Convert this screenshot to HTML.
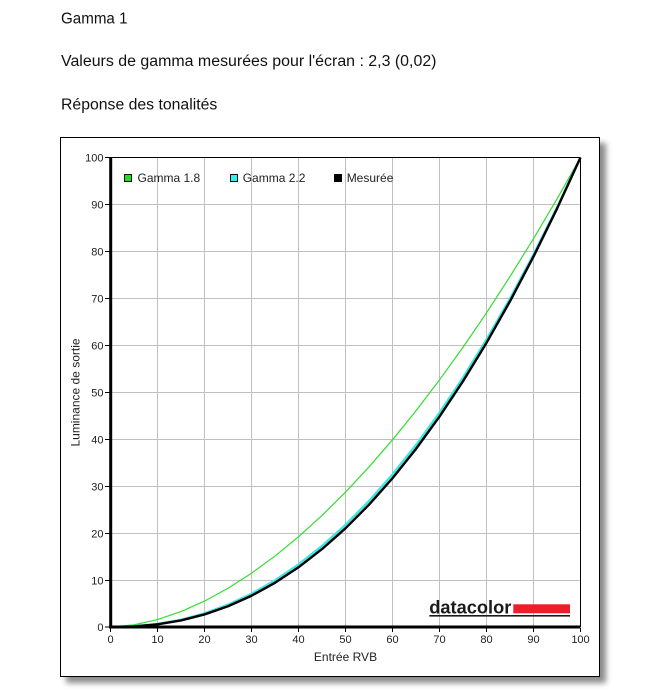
<!DOCTYPE html>
<html><head><meta charset="utf-8"><style>
html,body{margin:0;padding:0;background:#fff;}
svg{display:block;}
</style></head><body>
<svg width="661" height="692" viewBox="0 0 661 692" xmlns="http://www.w3.org/2000/svg" font-family="'Liberation Sans', Arial, sans-serif">
<defs>
<filter id="sh" x="-10%" y="-10%" width="130%" height="130%">
<feDropShadow dx="6" dy="6" stdDeviation="3" flood-color="#000" flood-opacity="0.45"/>
</filter>
</defs>
<g fill="#111" font-size="15.5">
<text x="61" y="23.3" textLength="66.5" lengthAdjust="spacingAndGlyphs">Gamma 1</text>
<text x="61" y="66" textLength="375.5" lengthAdjust="spacingAndGlyphs">Valeurs de gamma mesurées pour l'écran : 2,3 (0,02)</text>
<text x="61" y="109.3" textLength="156.3" lengthAdjust="spacingAndGlyphs">Réponse des tonalités</text>
</g>
<rect x="60.5" y="137.5" width="539" height="539" fill="#fff" stroke="#000" stroke-width="1" filter="url(#sh)"/>
<!-- grid -->
<g stroke="#c0c0c0" stroke-width="1">
<line x1="157.5" y1="157.5" x2="157.5" y2="627"/>
<line x1="204.5" y1="157.5" x2="204.5" y2="627"/>
<line x1="251.5" y1="157.5" x2="251.5" y2="627"/>
<line x1="298.5" y1="157.5" x2="298.5" y2="627"/>
<line x1="345.5" y1="157.5" x2="345.5" y2="627"/>
<line x1="392.5" y1="157.5" x2="392.5" y2="627"/>
<line x1="439.5" y1="157.5" x2="439.5" y2="627"/>
<line x1="486.5" y1="157.5" x2="486.5" y2="627"/>
<line x1="533.5" y1="157.5" x2="533.5" y2="627"/>
<line x1="110.5" y1="580.5" x2="580.5" y2="580.5"/>
<line x1="110.5" y1="533.5" x2="580.5" y2="533.5"/>
<line x1="110.5" y1="486.5" x2="580.5" y2="486.5"/>
<line x1="110.5" y1="439.5" x2="580.5" y2="439.5"/>
<line x1="110.5" y1="392.5" x2="580.5" y2="392.5"/>
<line x1="110.5" y1="345.5" x2="580.5" y2="345.5"/>
<line x1="110.5" y1="298.5" x2="580.5" y2="298.5"/>
<line x1="110.5" y1="251.5" x2="580.5" y2="251.5"/>
<line x1="110.5" y1="204.5" x2="580.5" y2="204.5"/>
</g>
<!-- plot frame -->
<line x1="110.5" y1="157.5" x2="580.5" y2="157.5" stroke="#000" stroke-width="1"/>
<line x1="580.5" y1="157.5" x2="580.5" y2="627" stroke="#000" stroke-width="1"/>
<!-- ticks -->
<g stroke="#000" stroke-width="1">
<line x1="105" y1="627" x2="110" y2="627"/>
<line x1="105" y1="580.5" x2="110" y2="580.5"/>
<line x1="105" y1="533.5" x2="110" y2="533.5"/>
<line x1="105" y1="486.5" x2="110" y2="486.5"/>
<line x1="105" y1="439.5" x2="110" y2="439.5"/>
<line x1="105" y1="392.5" x2="110" y2="392.5"/>
<line x1="105" y1="345.5" x2="110" y2="345.5"/>
<line x1="105" y1="298.5" x2="110" y2="298.5"/>
<line x1="105" y1="251.5" x2="110" y2="251.5"/>
<line x1="105" y1="204.5" x2="110" y2="204.5"/>
<line x1="105" y1="157.5" x2="110" y2="157.5"/>
<line x1="110.5" y1="628" x2="110.5" y2="632"/>
<line x1="157.5" y1="628" x2="157.5" y2="632"/>
<line x1="204.5" y1="628" x2="204.5" y2="632"/>
<line x1="251.5" y1="628" x2="251.5" y2="632"/>
<line x1="298.5" y1="628" x2="298.5" y2="632"/>
<line x1="345.5" y1="628" x2="345.5" y2="632"/>
<line x1="392.5" y1="628" x2="392.5" y2="632"/>
<line x1="439.5" y1="628" x2="439.5" y2="632"/>
<line x1="486.5" y1="628" x2="486.5" y2="632"/>
<line x1="533.5" y1="628" x2="533.5" y2="632"/>
<line x1="580.5" y1="628" x2="580.5" y2="632"/>
</g>
<g font-size="11" fill="#222" text-anchor="end">
<text x="103.5" y="631">0</text>
<text x="103.5" y="584.3">10</text>
<text x="103.5" y="537.3">20</text>
<text x="103.5" y="490.3">30</text>
<text x="103.5" y="443.3">40</text>
<text x="103.5" y="396.3">50</text>
<text x="103.5" y="349.3">60</text>
<text x="103.5" y="302.3">70</text>
<text x="103.5" y="255.3">80</text>
<text x="103.5" y="208.3">90</text>
<text x="103.5" y="161.5">100</text>
</g>
<g font-size="11" fill="#222" text-anchor="middle">
<text x="110.5" y="643">0</text>
<text x="157.5" y="643">10</text>
<text x="204.5" y="643">20</text>
<text x="251.5" y="643">30</text>
<text x="298.5" y="643">40</text>
<text x="345.5" y="643">50</text>
<text x="392.5" y="643">60</text>
<text x="439.5" y="643">70</text>
<text x="486.5" y="643">80</text>
<text x="533.5" y="643">90</text>
<text x="580.5" y="643">100</text>
</g>
<text x="345.5" y="661" font-size="12" fill="#222" text-anchor="middle">Entrée RVB</text>
<text transform="translate(79.5,392.5) rotate(-90)" x="0" y="0" font-size="12" fill="#222" text-anchor="middle">Luminance de sortie</text>
<!-- datacolor logo -->
<text x="429.3" y="613.3" font-size="18" font-weight="bold" fill="#1a1a1a" textLength="82" lengthAdjust="spacingAndGlyphs">datacolor</text>
<rect x="513.3" y="604.3" width="56.7" height="9" fill="#e8202a"/>
<rect x="429.3" y="615" width="140.7" height="1.6" fill="#1a1a1a"/>
<!-- curves -->
<polyline fill="none" stroke="#33dd33" stroke-width="1.2" stroke-linejoin="round" points="110.5,627 134,624.86 157.5,619.56 181,611.56 204.5,601.09 228,588.28 251.5,573.24 275,556.06 298.5,536.76 322,515.45 345.5,492.16 369,466.95 392.5,439.81 416,410.79 439.5,379.95 463,347.27 486.5,312.81 510,276.56 533.5,238.63 557,198.91 580.5,157.5"/>
<polyline fill="none" stroke="#3ee6e6" stroke-width="2.4" stroke-linejoin="round" points="110.5,626.8 134,626.36 157.5,624.04 181,619.77 204.5,613.39 228,604.76 251.5,593.79 275,580.38 298.5,564.46 322,545.96 345.5,524.84 369,500.99 392.5,474.41 416,445.02 439.5,412.76 463,377.65 486.5,339.62 510,298.63 533.5,254.59 557,207.60 580.5,157.5"/>
<polyline fill="none" stroke="#000" stroke-width="2.4" stroke-linejoin="round" points="110.5,627 134,626.45 157.5,624.36 181,620.43 204.5,614.44 228,606.25 251.5,595.72 275,582.77 298.5,567.28 322,549.11 345.5,528.31 369,504.70 392.5,478.26 416,448.87 439.5,416.57 463,381.22 486.5,342.82 510,301.26 533.5,256.61 557,208.68 580.5,157.5"/>
<!-- axes thick -->
<line x1="110.7" y1="157" x2="110.7" y2="628.5" stroke="#000" stroke-width="3"/>
<line x1="109.2" y1="627" x2="580.5" y2="627" stroke="#000" stroke-width="3"/>
<!-- legend -->
<rect x="124.5" y="174.5" width="7" height="7" fill="#22dd22" stroke="#111" stroke-width="1"/>
<text x="137.5" y="182" font-size="12" fill="#222">Gamma 1.8</text>
<rect x="230.5" y="174.5" width="7" height="7" fill="#33f0f0" stroke="#111" stroke-width="1"/>
<text x="242.7" y="182" font-size="12" fill="#222">Gamma 2.2</text>
<rect x="334.5" y="174.5" width="7" height="7" fill="#000" stroke="#000" stroke-width="1"/>
<text x="346.7" y="182" font-size="12" fill="#222">Mesurée</text>
</svg>
</body></html>
